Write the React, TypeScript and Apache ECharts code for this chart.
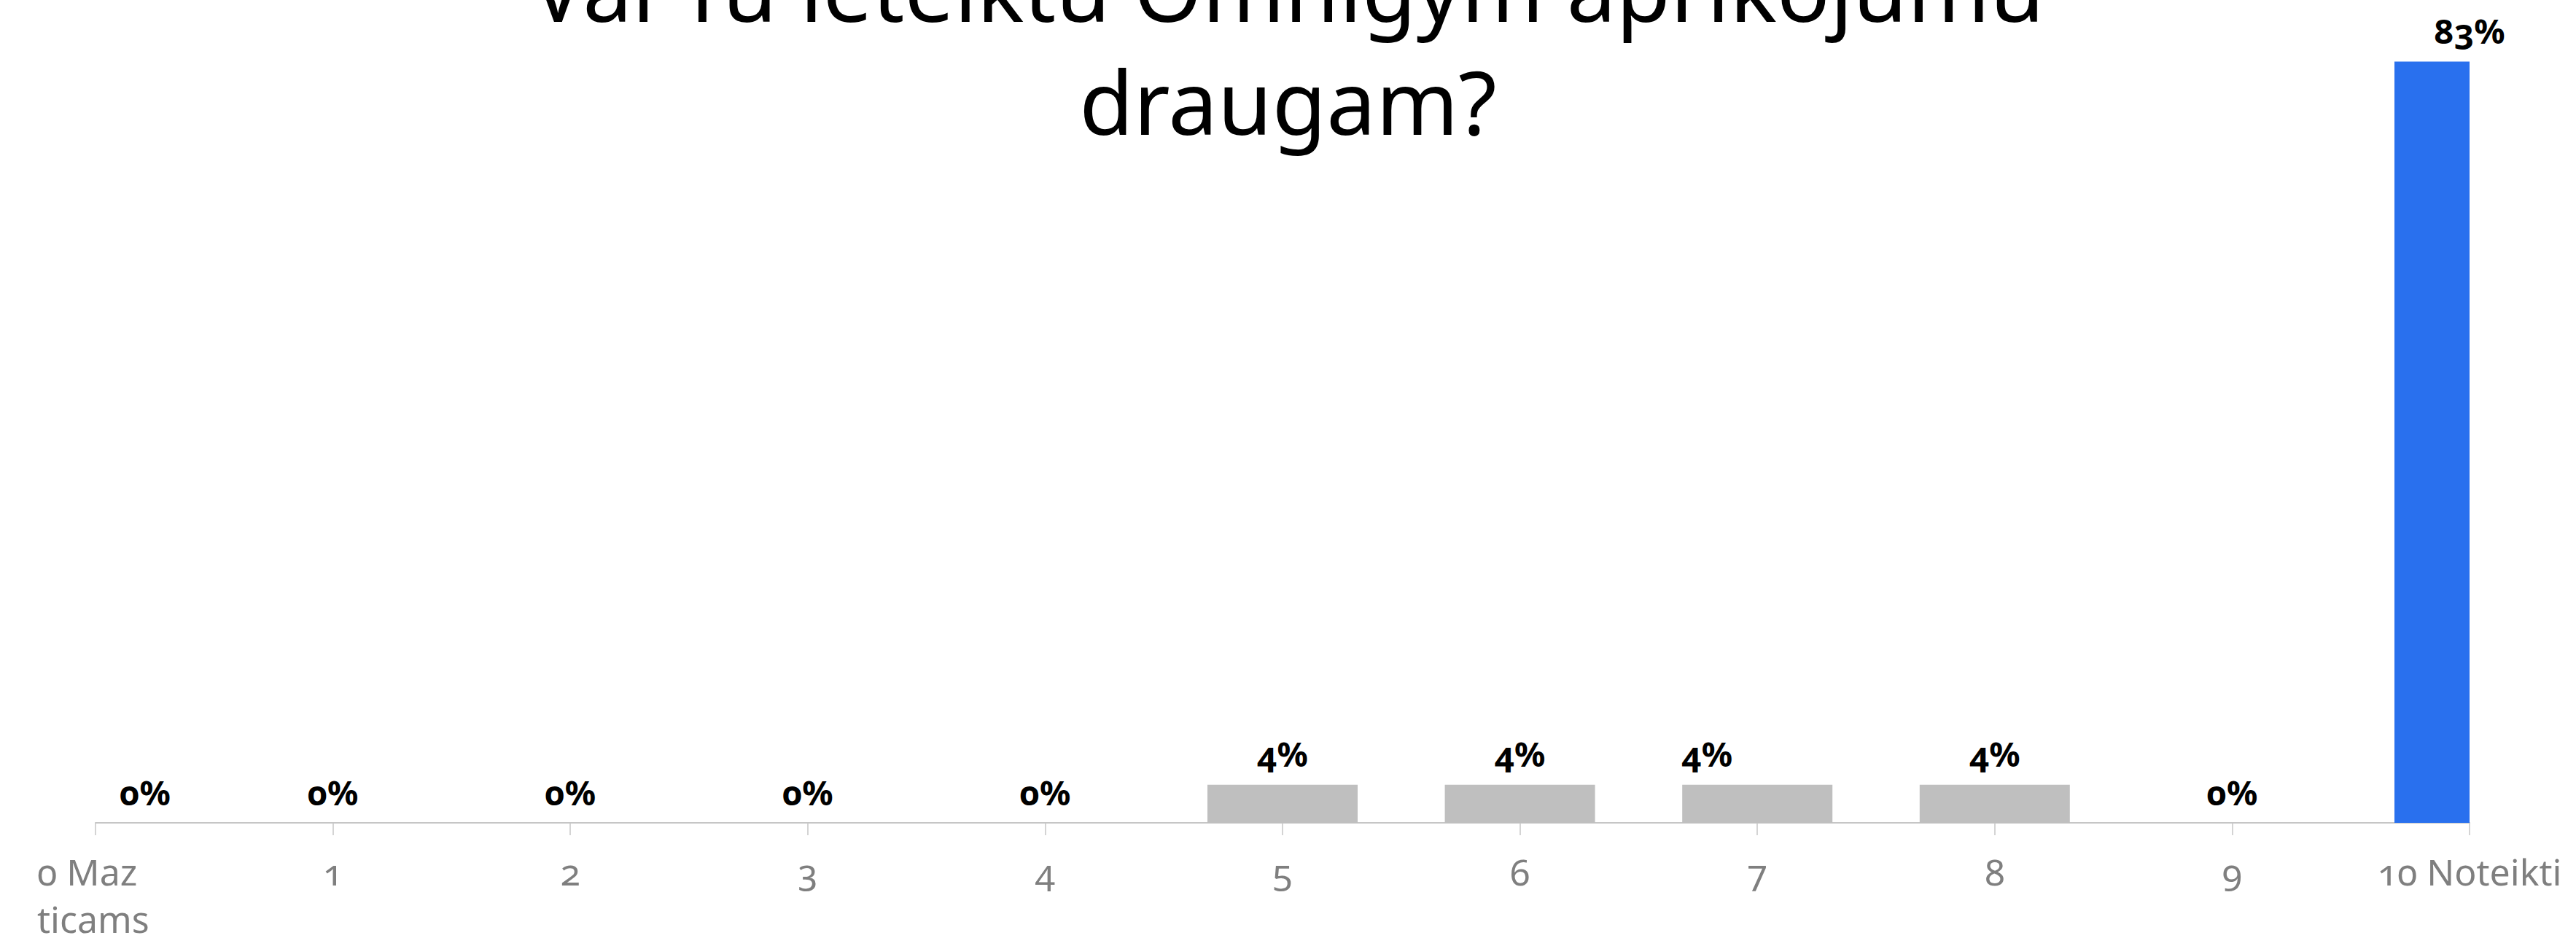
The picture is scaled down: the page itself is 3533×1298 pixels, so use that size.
import React, { useEffect, useRef } from "react";
import * as echarts from "echarts";

const titleText = "Vai Tu ieteiktu Omnigym aprīkojumu\ndraugam?";
const categories = ["0 Maz\nticams", "1", "2", "3", "4", "5", "6", "7", "8", "9", "10 Noteikti"];
const values = [0, 0, 0, 0, 0, 4.17, 4.17, 4.17, 4.17, 0, 83.33];

const GRAY = "#bfbfbf";
const BLUE = "#2970ee";
const FONT = "'Noto Sans', 'Open Sans', sans-serif";

export default function App() {
  const ref = useRef<HTMLDivElement>(null);
  useEffect(() => {
    document.body.style.margin = "0";
    const chart = echarts.init(ref.current!, null, { renderer: "svg" });
    const labelShift: Record<number, number> = { 0: 68, 7: -69 };
    const highlight = values.length - 1;
    const barWidth = 206;
    chart.setOption({
      animation: false,
      backgroundColor: "#ffffff",
      title: {
        text: titleText,
        left: "center",
        top: -100,
        textStyle: {
          fontFamily: FONT,
          fontSize: 121,
          fontWeight: "normal",
          color: "#000000",
          lineHeight: 155,
        },
      },
      grid: { left: 131, right: 146, top: 1, bottom: 169, containLabel: false },
      xAxis: {
        type: "category",
        data: categories,
        boundaryGap: false,
        axisLine: { lineStyle: { color: "#c6c6c6", width: 2 } },
        axisTick: { show: true, length: 17, lineStyle: { color: "#c6c6c6", width: 1.5 } },
        axisLabel: {
          interval: 0,
          color: "#7f7f7f",
          fontFamily: FONT,
          fontSize: 50,
          lineHeight: 65,
          margin: 34,
          formatter: (value: string) =>
            value.indexOf("\n") >= 0
              ? value
                  .split("\n")
                  .map((s) => `{l|${s}}`)
                  .join("\n")
              : value,
          rich: {
            l: {
              width: 160,
              align: "left",
              color: "#7f7f7f",
              fontFamily: FONT,
              fontSize: 50,
              lineHeight: 65,
            },
          },
        },
        splitLine: { show: false },
      },
      yAxis: {
        type: "value",
        min: 0,
        max: 90,
        show: false,
        splitLine: { show: false },
      },
      series: [
        {
          type: "custom",
          encode: { x: 0, y: 1 },
          data: values.map((v, i) => [i, v]),
          renderItem: (params: any, api: any) => {
            const idx = api.value(0);
            const v = api.value(1);
            const base = api.coord([idx, 0]);
            const top = api.coord([idx, v]);
            const cs = params.coordSys;
            const children: any[] = [];
            const h = base[1] - top[1];
            if (h > 0) {
              const shape = echarts.graphic.clipRectByRect(
                { x: base[0] - barWidth / 2, y: top[1], width: barWidth, height: h },
                { x: cs.x, y: cs.y, width: cs.width, height: cs.height }
              );
              if (shape) {
                children.push({
                  type: "rect",
                  shape,
                  style: { fill: idx === highlight ? BLUE : GRAY },
                });
              }
            }
            children.push({
              type: "text",
              x: base[0] + (labelShift[idx] || 0),
              y: top[1] - 19,
              style: {
                text: Math.round(v) + "%",
                align: "center",
                verticalAlign: "bottom",
                fontFamily: FONT,
                fontSize: 47,
                fontWeight: "bold",
                fill: "#000000",
              },
            });
            return { type: "group", children };
          },
        },
      ],
    });
    return () => chart.dispose();
  }, []);
  return (
    <>
      <style>{`svg text { font-variant-numeric: oldstyle-nums !important; font-feature-settings: "onum" 1 !important; }`}</style>
      <div
        ref={ref}
        style={{ position: "absolute", left: 0, top: 0, width: 3533, height: 1298 }}
      />
    </>
  );
}
